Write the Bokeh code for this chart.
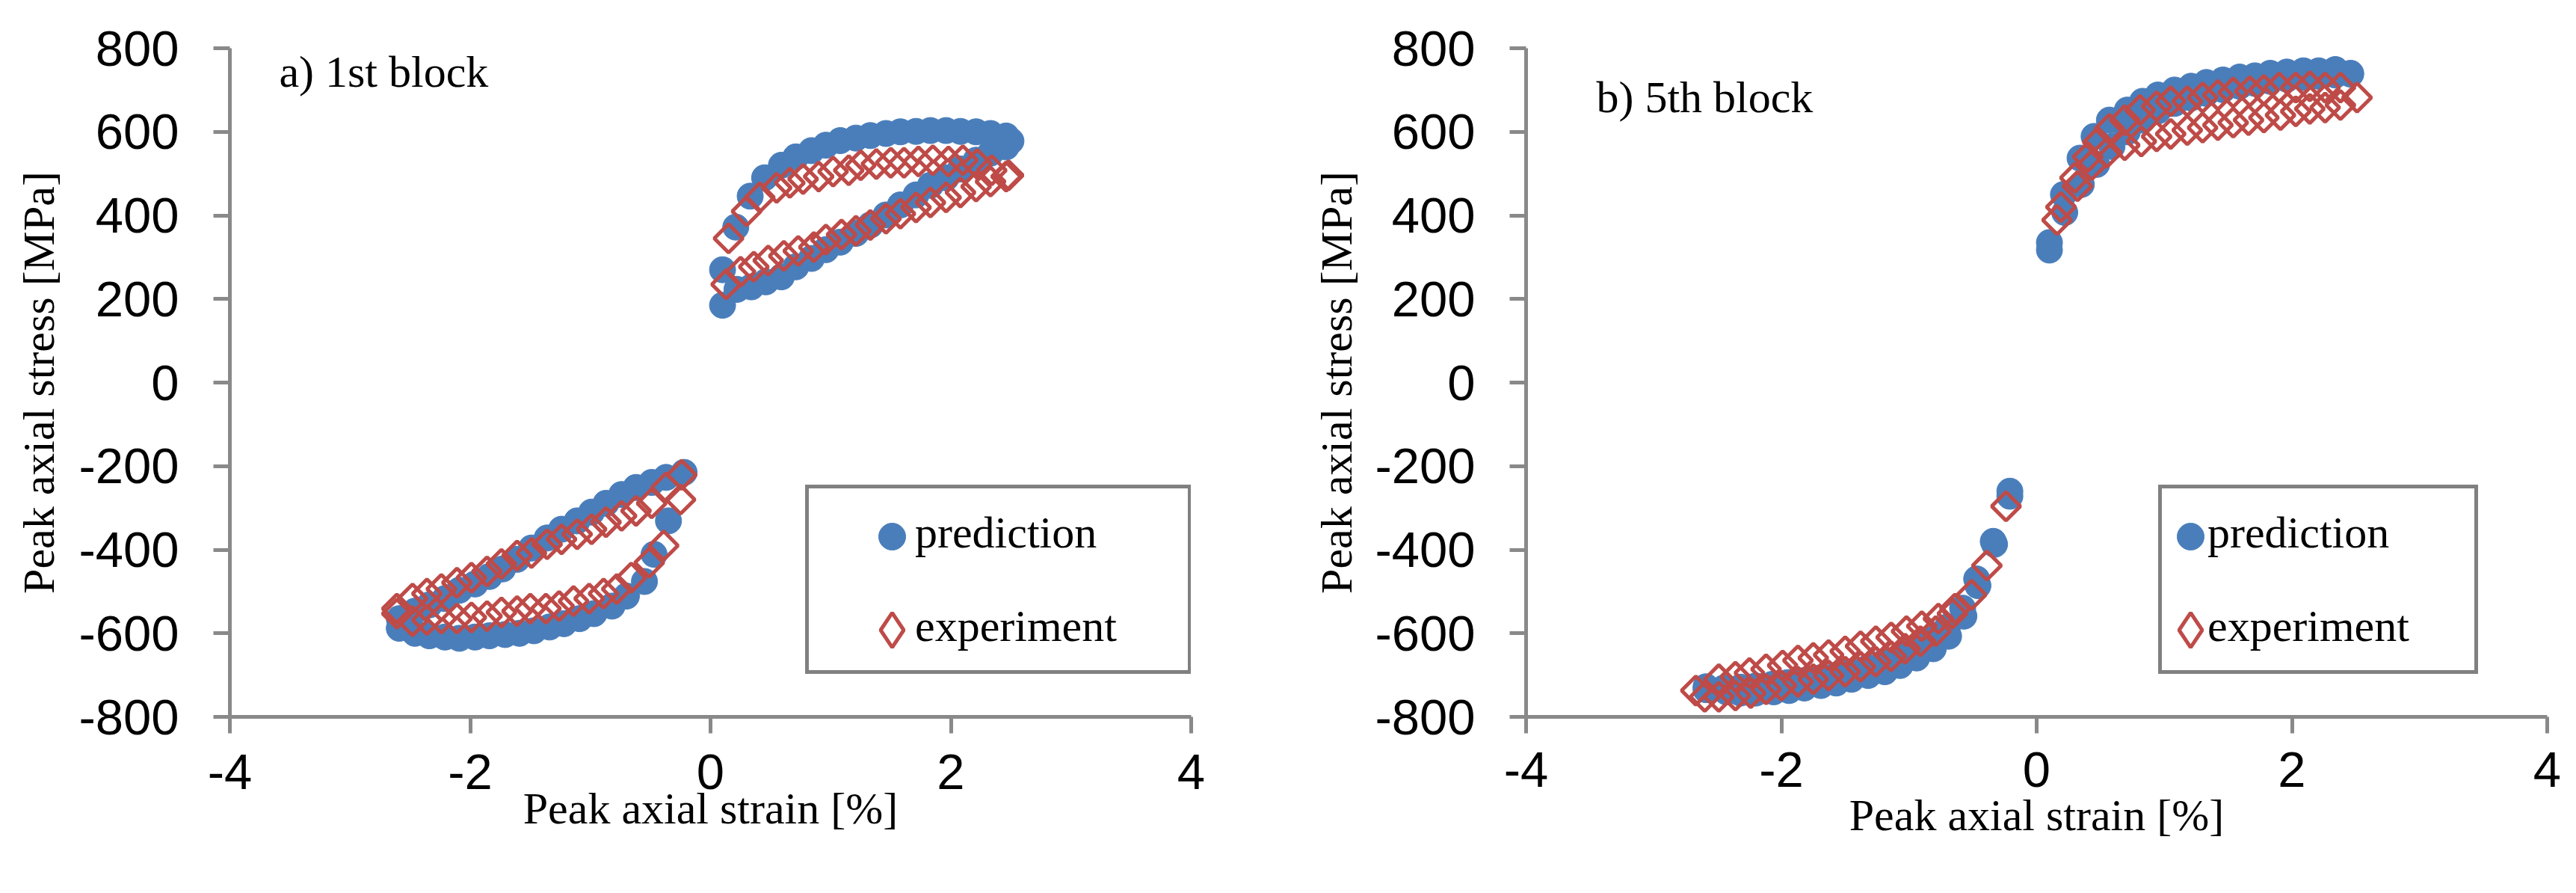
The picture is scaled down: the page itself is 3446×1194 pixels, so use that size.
import numpy as np
from bokeh.plotting import figure
from bokeh.models import Range1d, FixedTicker, Legend, LegendItem, Label, ColumnDataSource
from bokeh.layouts import row
from bokeh.embed import file_html
from bokeh.resources import INLINE

# ---------------- data ----------------
x_ticks = [-4, -2, 0, 2, 4]
y_ticks = [-800, -600, -400, -200, 0, 200, 400, 600, 800]
x_title = "Peak axial strain [%]"
y_title = "Peak axial stress [MPa]"
series_names = ["prediction", "experiment"]
panel_titles = ["a) 1st block", "b) 5th block"]

# a) 1st block - prediction
a_pred_strain = [0.10, 0.21, 0.33, 0.45, 0.59, 0.71, 0.84, 0.96, 1.08, 1.21, 1.33, 1.46, 1.58, 1.71, 1.83, 1.96, 2.08, 2.21, 2.33, 2.46, 2.50,
                 0.10, 0.22, 0.34, 0.46, 0.59, 0.71, 0.84, 0.96, 1.08, 1.21, 1.33, 1.46, 1.58, 1.71, 1.83, 1.96, 2.08, 2.21, 2.33, 2.46,
                 -0.22, -0.37, -0.49, -0.62, -0.74, -0.87, -0.99, -1.11, -1.24, -1.36, -1.49, -1.61, -1.73, -1.84, -1.96, -2.09, -2.21, -2.34, -2.46, -2.59,
                 -0.35, -0.47, -0.55, -0.70, -0.82, -0.97, -1.09, -1.22, -1.34, -1.47, -1.59, -1.71, -1.84, -1.96, -2.09, -2.21, -2.34, -2.46, -2.59]
a_pred_stress = [270, 372, 446, 490, 520, 540, 555, 568, 579, 585, 591, 596, 600, 601, 603, 603, 601, 600, 596, 590, 578,
                 185, 223, 229, 241, 253, 277, 297, 318, 336, 357, 377, 401, 425, 449, 472, 490, 511, 532, 549, 564,
                 -215, -227, -239, -251, -268, -289, -310, -331, -351, -372, -396, -423, -446, -464, -482, -497, -517, -532, -547, -565,
                 -331, -411, -476, -511, -535, -553, -565, -577, -585, -594, -600, -603, -606, -609, -612, -609, -606, -600, -588]

# a) 1st block - experiment
a_exp_strain = [0.15, 0.30, 0.41, 0.55, 0.66, 0.77, 0.90, 1.02, 1.15, 1.25, 1.38, 1.50, 1.61, 1.73, 1.85, 1.98, 2.10, 2.22, 2.34, 2.48,
                0.13, 0.25, 0.36, 0.48, 0.61, 0.73, 0.86, 0.96, 1.09, 1.21, 1.33, 1.46, 1.58, 1.71, 1.83, 1.96, 2.08, 2.21, 2.33, 2.46,
                -0.24, -0.25, -0.37, -0.49, -0.62, -0.74, -0.87, -0.99, -1.11, -1.24, -1.36, -1.49, -1.61, -1.74, -1.86, -1.99, -2.11, -2.24, -2.36, -2.48, -2.61,
                -0.39, -0.51, -0.66, -0.78, -0.89, -1.01, -1.14, -1.26, -1.37, -1.50, -1.61, -1.74, -1.86, -1.99, -2.11, -2.24, -2.36, -2.48, -2.61]
a_exp_stress = [345, 410, 443, 466, 478, 487, 493, 505, 508, 520, 523, 526, 526, 529, 532, 529, 532, 523, 508, 496,
                235, 265, 277, 292, 303, 315, 324, 342, 354, 363, 377, 392, 404, 419, 431, 443, 455, 469, 481, 493,
                -221, -280, -251, -289, -307, -319, -334, -351, -363, -375, -387, -408, -414, -434, -452, -467, -479, -494, -505, -517, -541,
                -390, -431, -467, -494, -505, -517, -523, -535, -541, -541, -547, -550, -559, -562, -565, -565, -568, -571, -553]

# b) 5th block - prediction
b_pred_strain = [0.10, 0.21, 0.34, 0.45, 0.57, 0.71, 0.83, 0.95, 1.08, 1.21, 1.33, 1.46, 1.59, 1.71, 1.83, 1.96, 2.09, 2.21, 2.34, 2.46,
                 0.10, 0.22, 0.35, 0.47, 0.59, 0.71, 0.83, 0.95, 1.08, 1.21, 1.33, 1.46, 1.59, 1.71, 1.83, 1.96, 2.09, 2.21, 2.34, 2.46,
                 -0.21, -0.33, -0.46, -0.57, -0.69, -0.81, -0.94, -1.07, -1.19, -1.32, -1.45, -1.57, -1.69, -1.82, -1.94, -2.06, -2.20, -2.32, -2.43, -2.59,
                 -0.21, -0.34, -0.47, -0.58, -0.70, -0.82, -0.95, -1.07, -1.20, -1.32, -1.45, -1.57, -1.70, -1.82, -1.95, -2.07, -2.20, -2.32, -2.45, -2.59]
b_pred_stress = [335, 450, 537, 589, 628, 652, 673, 688, 700, 709, 718, 724, 731, 734, 740, 743, 746, 746, 749, 740,
                 317, 407, 474, 522, 565, 600, 628, 650, 668, 681, 692, 701, 709, 716, 721, 726, 730, 733, 736, 738,
                 -260, -387, -486, -559, -607, -637, -659, -677, -692, -701, -710, -719, -725, -731, -737, -740, -743, -743, -740, -728,
                 -272, -380, -470, -540, -585, -615, -638, -656, -670, -682, -692, -700, -707, -713, -718, -722, -726, -729, -731, -735]

# b) 5th block - experiment
b_exp_strain = [0.16, 0.30, 0.40, 0.48, 0.57, 0.69, 0.81, 0.94, 1.05, 1.18, 1.30, 1.42, 1.54, 1.67, 1.78, 1.90, 2.03, 2.14, 2.26, 2.38, 2.51,
                0.19, 0.32, 0.43, 0.55, 0.69, 0.82, 0.94, 1.05, 1.18, 1.30, 1.42, 1.54, 1.66, 1.78, 1.91, 2.03, 2.14, 2.26, 2.38,
                -0.24, -0.39, -0.51, -0.64, -0.77, -0.90, -1.02, -1.14, -1.26, -1.38, -1.50, -1.63, -1.75, -1.87, -1.99, -2.12, -2.25, -2.36, -2.49, -2.67,
                -0.66, -0.79, -0.91, -1.03, -1.14, -1.26, -1.38, -1.50, -1.63, -1.75, -1.87, -2.00, -2.12, -2.24, -2.36, -2.49, -2.60]
b_exp_stress = [389, 490, 540, 575, 607, 628, 652, 661, 673, 673, 682, 688, 694, 697, 700, 706, 706, 709, 706, 706, 682,
                420, 470, 520, 550, 568, 577, 589, 595, 604, 610, 616, 622, 628, 634, 640, 649, 655, 658, 664,
                -296, -438, -508, -541, -565, -583, -595, -610, -619, -631, -643, -652, -659, -665, -677, -686, -695, -704, -710, -737,
                -553, -595, -619, -637, -655, -668, -680, -692, -701, -710, -716, -725, -734, -743, -749, -752, -752]

# ---------------- styling ----------------
BLUE = "#4A7EBB"
RED = "#BE4B48"
AXIS = "#898989"
TICK_FONT = "Liberation Sans"
TITLE_FONT = "Liberation Serif"

FIG_H = 1178
FRAME_TOP = 64
FRAME_H = 894


def key_legend(renderer, box, cx, cy):
    # a single legend key whose marker is centred at frame position (cx, cy)
    return Legend(items=[LegendItem(label="", renderers=[renderer])],
                  location=(cx - box // 2, cy - box // 2), orientation="vertical",
                  padding=0, spacing=0, glyph_width=box, glyph_height=box,
                  label_height=box, label_width=0, label_standoff=0, margin=0,
                  border_line_alpha=0.0, background_fill_alpha=0.0,
                  inactive_fill_alpha=0.0,
                  label_text_font=TITLE_FONT, label_text_font_size="60px")


def make_panel(label_text, px, py, ex, ey, w, bl, br,
               leg_loc, text_gw, leg_lw, key_cx,
               lab_x, lab_y, xtick_standoff, xlab_standoff, ylab_standoff):
    p = figure(width=w, height=FIG_H,
               min_border_left=bl, min_border_top=FRAME_TOP, min_border_right=br,
               min_border_bottom=FIG_H - FRAME_TOP - FRAME_H,
               x_range=Range1d(x_ticks[0], x_ticks[-1]), y_range=Range1d(y_ticks[0], y_ticks[-1]),
               output_backend="svg", toolbar_location=None)
    p.outline_line_color = None
    p.xgrid.visible = False
    p.ygrid.visible = False
    p.background_fill_color = "white"
    p.border_fill_color = "white"

    p.xaxis.ticker = FixedTicker(ticks=x_ticks)
    p.yaxis.ticker = FixedTicker(ticks=y_ticks)
    p.xaxis.major_label_overrides = {t: str(t) for t in x_ticks}
    p.yaxis.major_label_overrides = {t: str(t) for t in y_ticks}
    p.xaxis.axis_label = x_title
    p.yaxis.axis_label = y_title
    for ax in (p.xaxis[0], p.yaxis[0]):
        ax.axis_line_color = AXIS
        ax.axis_line_width = 5
        ax.major_tick_line_color = AXIS
        ax.major_tick_line_width = 5
        ax.major_tick_in = 0
        ax.major_tick_out = 22
        ax.minor_tick_line_color = None
        ax.major_label_text_font = TICK_FONT
        ax.major_label_text_font_size = "67px"
        ax.major_label_text_color = "black"
        ax.axis_label_text_font = TITLE_FONT
        ax.axis_label_text_font_size = "60px"
        ax.axis_label_text_font_style = "normal"
        ax.axis_label_text_color = "black"
    p.xaxis.major_label_standoff = xtick_standoff
    p.yaxis.major_label_standoff = 46
    p.xaxis.axis_label_standoff = xlab_standoff
    p.yaxis.axis_label_standoff = ylab_standoff

    pred_src = ColumnDataSource(dict(x=px, y=py))
    exp_src = ColumnDataSource(dict(x=ex, y=ey))
    r_pred = p.scatter("x", "y", source=pred_src, marker="circle", size=35,
                       fill_color=BLUE, line_color=BLUE, line_width=1)
    p.scatter("x", "y", source=exp_src, marker="square", angle=np.pi / 4, size=27,
              fill_color=None, line_color=RED, line_width=5)
    # hidden twin of the experiment series, used only for its legend key
    r_key = p.scatter("x", "y", source=exp_src, marker="diamond", fill_color=None,
                      line_color=RED, line_width=5, visible=False)

    leg_text = Legend(items=[LegendItem(label=series_names[0], renderers=[]),
                             LegendItem(label=series_names[1], renderers=[])],
                      location=leg_loc, orientation="vertical",
                      padding=14, spacing=35,
                      glyph_width=text_gw, glyph_height=90, label_height=90,
                      label_width=leg_lw, label_standoff=0, margin=0,
                      border_line_color="#808080", border_line_width=5, border_line_alpha=1.0,
                      background_fill_color="white", background_fill_alpha=1.0,
                      label_text_font=TITLE_FONT, label_text_font_size="60px",
                      label_text_color="black")
    p.add_layout(leg_text)
    top = leg_loc[1] + 14 * 2 + 90 * 2 + 35
    p.add_layout(key_legend(r_pred, 90, key_cx, top - 14 - 45))
    p.add_layout(key_legend(r_key, 116, key_cx, top - 14 - 90 - 35 - 45))

    p.add_layout(Label(x=lab_x, y=lab_y, text=label_text, text_font=TITLE_FONT,
                       text_font_size="60px", text_color="black",
                       text_baseline="alphabetic"))
    return p


p1 = make_panel(panel_titles[0], a_pred_strain, a_pred_stress, a_exp_strain, a_exp_stress,
                w=1716, bl=307, br=123,
                leg_loc=(770, 57), text_gw=128, leg_lw=351, key_cx=886,
                lab_x=-3.59, lab_y=744, xtick_standoff=28, xlab_standoff=-10, ylab_standoff=17)
p2 = make_panel(panel_titles[1], b_pred_strain, b_pred_stress, b_exp_strain, b_exp_stress,
                w=1714, bl=325, br=23,
                leg_loc=(846, 57), text_gw=47, leg_lw=343, key_cx=889,
                lab_x=-3.45, lab_y=683, xtick_standoff=25, xlab_standoff=2, ylab_standoff=15)

layout = row(p1, p2)
open("out.html", "w").write(file_html(layout, INLINE))
